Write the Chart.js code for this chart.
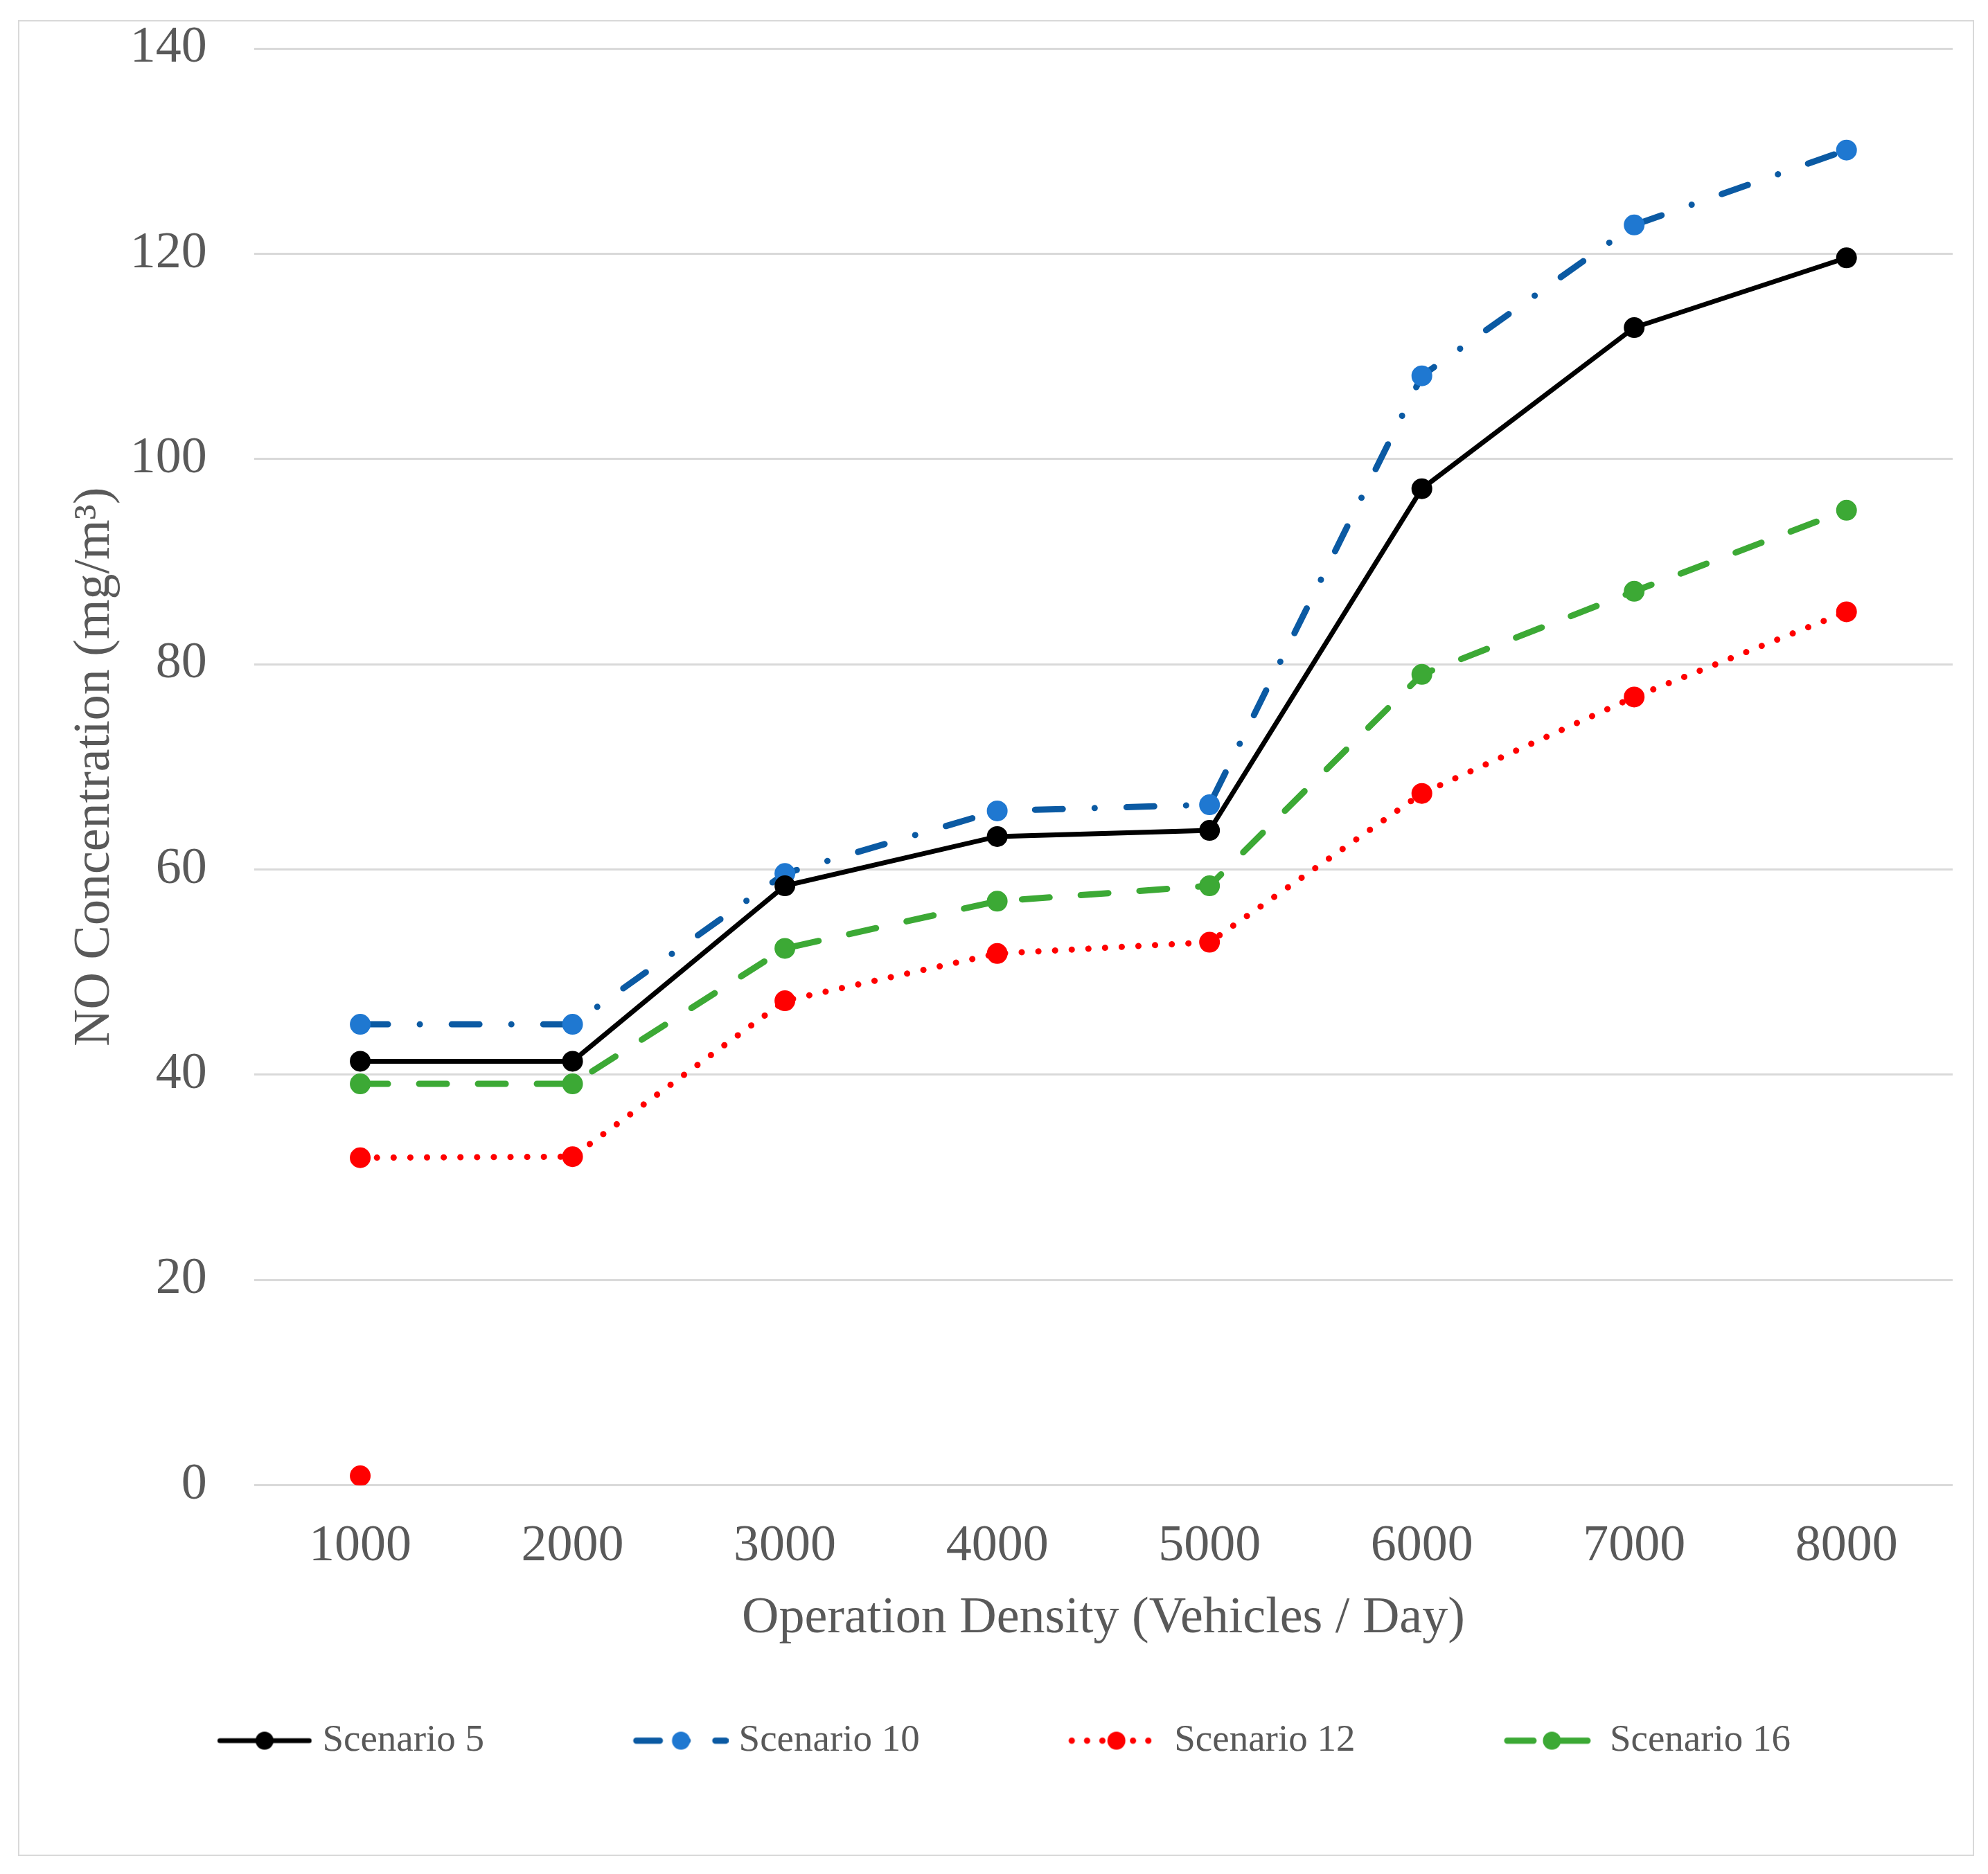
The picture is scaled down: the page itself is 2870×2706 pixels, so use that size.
<!DOCTYPE html>
<html>
<head>
<meta charset="utf-8">
<script src="https://cdn.jsdelivr.net/npm/chart.js@4.4.0/dist/chart.umd.min.js"></script>
<style>
  html, body { margin: 0; padding: 0; background: #fff; }
  #wrap { position: relative; width: 2870px; height: 2706px; }
  #no-chart { position: absolute; left: 0; top: 0; }
  #frame { position: absolute; left: 26px; top: 29px; width: 2820px; height: 2647px; border: 2px solid #d9d9d9; pointer-events: none; }
</style>
</head>
<body>
<div id="wrap">
  <canvas id="no-chart" width="2870" height="2706"></canvas>
  <div id="frame"></div>
</div>
<script>
// values
const densities = ['1000', '2000', '3000', '4000', '5000', '6000', '7000', '8000'];
const scenario5 = [41.3, 41.3, 58.4, 63.2, 63.8, 97.1, 112.8, 119.6];
const scenario10 = [44.9, 44.9, 59.6, 65.7, 66.3, 108.1, 122.8, 130.1];
const scenario12 = [31.9, 32.0, 47.2, 51.8, 52.9, 67.4, 76.8, 85.1];
const scenario16 = [39.1, 39.1, 52.3, 56.9, 58.4, 79.0, 87.1, 95.0];
// lone red marker sitting near zero at 1000
const scenario12Stray = [0.9, null, null, null, null, null, null, null];
const seriesNames = ['Scenario 5', 'Scenario 10', 'Scenario 12', 'Scenario 16'];
const yTicks = [0, 20, 40, 60, 80, 100, 120, 140];

const textColor = '#595959';
const serif = "'Liberation Serif', 'Times New Roman', serif";

// legend swatch: blank lead-in, then a short line with the marker in the middle
function legendMarker(lineColor, dotColor, dash, lineWidth) {
  const c = document.createElement('canvas');
  c.width = 229;
  c.height = 40;
  const g = c.getContext('2d');
  g.strokeStyle = lineColor;
  g.lineWidth = lineWidth;
  g.lineCap = 'round';
  g.setLineDash(dash);
  g.beginPath();
  g.moveTo(96, 20);
  g.lineTo(225, 20);
  g.stroke();
  g.setLineDash([]);
  g.fillStyle = dotColor;
  g.beginPath();
  g.arc(160.5, 20, 13, 0, Math.PI * 2);
  g.fill();
  return c;
}

const legendMarkers = [
  legendMarker('#000000', '#000000', [], 7),
  legendMarker('#0B5AA3', '#1F78D1', [34, 40, 0.1, 40], 9),
  legendMarker('#FF0000', '#FF0000', [0.1, 22], 9),
  legendMarker('#3CA935', '#3CA935', [38, 40], 9)
];

function lineSet(label, data, lineColor, dotColor, dash, width) {
  return {
    label: label,
    data: data,
    borderColor: lineColor,
    backgroundColor: dotColor,
    borderWidth: width,
    borderDash: dash,
    borderCapStyle: 'round',
    pointRadius: 14,
    pointBorderWidth: 2,
    pointBackgroundColor: dotColor,
    pointBorderColor: dotColor,
    pointHoverRadius: 14,
    tension: 0,
    fill: false
  };
}

const ctx = document.getElementById('no-chart').getContext('2d');
new Chart(ctx, {
  type: 'line',
  data: {
    labels: densities,
    datasets: [
      lineSet(seriesNames[0], scenario5, '#000000', '#000000', [], 7),
      lineSet(seriesNames[1], scenario10, '#0B5AA3', '#1F78D1', [40, 46, 0.1, 46], 9),
      lineSet(seriesNames[2], scenario12, '#FF0000', '#FF0000', [0.1, 24], 9),
      lineSet(seriesNames[3], scenario16, '#3CA935', '#3CA935', [40, 45], 9),
      Object.assign(lineSet('stray', scenario12Stray, '#FF0000', '#FF0000', [], 0), { showLine: false })
    ]
  },
  options: {
    responsive: false,
    devicePixelRatio: 1,
    animation: false,
    layout: {
      padding: { left: 0, right: 51, top: 70, bottom: 155 }
    },
    scales: {
      x: {
        type: 'category',
        offset: true,
        grid: { display: false, drawTicks: false },
        border: { display: false },
        ticks: {
          color: textColor,
          font: { family: serif, size: 74 },
          padding: 45,
          maxRotation: 0
        },
        title: {
          display: true,
          text: 'Operation Density (Vehicles / Day)',
          color: textColor,
          font: { family: serif, size: 74 },
          padding: { top: -30, bottom: -32 }
        }
      },
      y: {
        min: 0,
        max: 140,
        afterBuildTicks: axis => {
          axis.ticks = yTicks.map(v => ({ value: v }));
        },
        // tick padding otherwise pushes the plot top down
        afterFit: axis => {
          axis.paddingTop = 0;
        },
        grid: { color: '#d9d9d9', lineWidth: 3, drawTicks: false },
        border: { display: false },
        ticks: {
          color: textColor,
          font: { family: serif, size: 74 },
          padding: 68
        },
        title: {
          display: true,
          text: 'NO Concentration (mg/m\u00B3)',
          color: textColor,
          font: { family: serif, size: 74 },
          padding: { top: 93, bottom: -62 }
        }
      }
    },
    plugins: {
      tooltip: { enabled: false },
      legend: {
        position: 'bottom',
        labels: {
          color: textColor,
          font: { family: serif, size: 55 },
          usePointStyle: true,
          pointStyleWidth: 204,
          padding: 136,
          filter: item => item.datasetIndex < 4,
          generateLabels: chart => {
            const items = Chart.defaults.plugins.legend.labels.generateLabels(chart);
            items.forEach(item => {
              if (item.datasetIndex < 4) {
                item.pointStyle = legendMarkers[item.datasetIndex];
              }
            });
            return items;
          }
        }
      }
    }
  }
});
</script>
</body>
</html>
